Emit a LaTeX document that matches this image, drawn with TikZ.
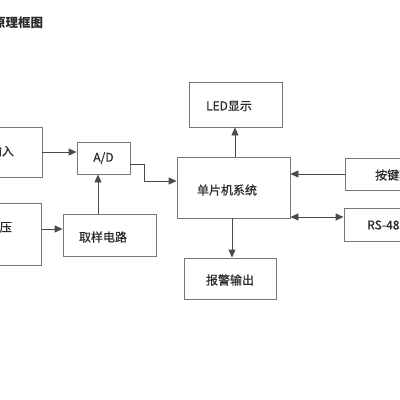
\documentclass[tikz,border=0pt]{standalone}
\usepackage{fontspec}
\setmainfont{Noto Sans CJK SC}
\newfontfamily\medfont[FakeBold=0.6]{Noto Sans CJK SC}
\usetikzlibrary{arrows.meta,calc}
\definecolor{boxc}{HTML}{777777}
\definecolor{linec}{HTML}{4A4A4A}
\definecolor{txtc}{HTML}{2A2A2A}
\tikzset{
  box/.style={draw=boxc, line width=0.9pt, rectangle, inner sep=0pt},
  lbl/.style={text=txtc, font=\medfont\fontsize{12}{12}\selectfont, inner sep=0pt},
  ttl/.style={text=txtc, font=\fontsize{12.5}{12.5}\selectfont\bfseries, inner sep=0pt},
  arr/.style={draw=linec, line width=0.9pt, -{Triangle[length=8pt,width=7pt]}},
  darr/.style={draw=linec, line width=0.9pt, {Triangle[length=8pt,width=7pt]}-{Triangle[length=8pt,width=7pt]}}
}
\begin{document}
\begin{tikzpicture}[x=1pt,y=-1pt]
\useasboundingbox (0,0) rectangle (400,400);
\fill[white] (0,0) rectangle (400,400);
\node[ttl, anchor=west] (title) at (-7,23) {原理框图};
% boxes
\node[box, minimum width=102pt, minimum height=50pt] (in1) at (-9,152) {};
\node[lbl, anchor=east] (in1t) at (14,151) {输入};
\node[box, minimum width=101pt, minimum height=62pt] (in2) at (-9.5,234) {};
\node[lbl, anchor=east] (in2t) at (12,227) {电压};
\node[box, minimum width=53pt, minimum height=32pt] (ad) at (103.5,158) {};
\node[lbl] (adt) at (103.5,158) {A/D};
\node[box, minimum width=93pt, minimum height=42pt] (samp) at (109.5,235) {};
\node[lbl] (sampt) at (103,237) {取样电路};
\node[box, minimum width=113pt, minimum height=61pt] (mcu) at (233.5,187.5) {};
\node[lbl] (mcut) at (227,190) {单片机系统};
\node[box, minimum width=93pt, minimum height=45pt] (led) at (235.5,104.5) {};
\node[lbl] (ledt) at (229,106) {LED显示};
\node[box, minimum width=92pt, minimum height=41pt] (alarm) at (230,278.5) {};
\node[lbl] (alarmt) at (230,280) {报警输出};
\node[box, minimum width=75pt, minimum height=32pt] (key) at (382.5,174) {};
\node[lbl, anchor=west] (keyt) at (375,175) {按键输入};
\node[box, minimum width=76pt, minimum height=33pt] (rs) at (382,224.5) {};
\node[lbl, anchor=west] (rst) at (367,225) {RS-485};
% connector helper coordinates
\coordinate (c1) at (235,0);
\coordinate (c2) at (232,0);
\coordinate (c3) at (98,0);
\coordinate (r2) at (0,229);
\coordinate (rad) at (0,164);
\coordinate (rmcu) at (0,181);
\coordinate (rrs) at (0,217);
% connectors
\draw[arr] (in1.east) -- (in1.east -| ad.west);
\draw[arr] (in2.east |- r2) -- (samp.west |- r2);
\draw[arr] (samp.north -| c3) -- (ad.south -| c3);
\draw[arr] (ad.east |- rad) -- ++(14,0) |- (mcu.west |- rmcu);
\draw[arr] (mcu.north -| c1) -- (led.south -| c1);
\draw[arr] (key.west) -- (key.west -| mcu.east);
\draw[darr] (rs.west |- rrs) -- (mcu.east |- rrs);
\draw[arr] (mcu.south -| c2) -- (alarm.north -| c2);
\end{tikzpicture}
\end{document}
